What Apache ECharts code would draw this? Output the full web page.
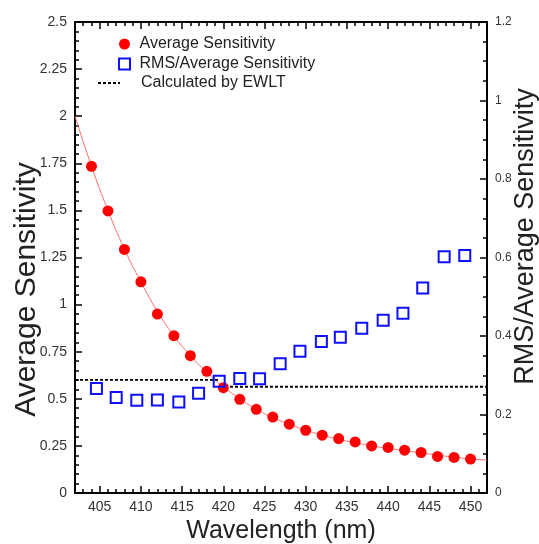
<!DOCTYPE html>
<html>
<head>
<meta charset="utf-8">
<script src="https://cdn.jsdelivr.net/npm/echarts@6/dist/echarts.min.js"></script>
<style>
  html, body { margin: 0; padding: 0; background: #fff; }
  #chart { width: 539px; height: 544px; }
</style>
</head>
<body>
<div id="chart"></div>
<script>
var avgWl = [404, 406, 408, 410, 412, 414, 416, 418, 420, 422, 424, 426,
  428, 430, 432, 434, 436, 438, 440, 442, 444, 446, 448, 450];
var avgSens = [1.734, 1.497, 1.293, 1.121, 0.95, 0.835, 0.729, 0.646, 0.559, 0.497, 0.444, 0.403,
  0.365, 0.333, 0.307, 0.289, 0.271, 0.25, 0.242, 0.227, 0.215, 0.194, 0.189, 0.18];

var fitWl = [402, 404, 406, 408, 410, 412, 414, 416, 418, 420, 422, 424, 426,
  428, 430, 432, 434, 436, 438, 440, 442, 444, 446, 448, 450, 452];
var fitSens = [2.0, 1.735, 1.5, 1.295, 1.12, 0.965, 0.835, 0.73, 0.64, 0.565, 0.5, 0.445, 0.4,
  0.365, 0.333, 0.307, 0.285, 0.267, 0.25, 0.237, 0.225, 0.213, 0.201, 0.19, 0.181, 0.175];

var rmsWl = [404.6, 407, 409.5, 412, 414.6, 417, 419.5, 422, 424.4, 426.9, 429.3, 431.9,
  434.2, 436.8, 439.4, 441.8, 444.2, 446.8, 449.3];
var rmsRatio = [0.266, 0.243, 0.236, 0.237, 0.232, 0.254, 0.285, 0.292, 0.291, 0.329, 0.361, 0.386,
  0.397, 0.42, 0.44, 0.458, 0.522, 0.602, 0.605];

// EWLT level, two pieces with a break
var ewltWl = [402, 419.5, 419.8, 420.2, 452];
var ewltSens = [0.6, 0.6, null, 0.564, 0.564];

var xTicks = [405, 410, 415, 420, 425, 430, 435, 440, 445, 450];

var font = '"Liberation Sans", Arial, sans-serif';

function pairs(xs, ys) {
  return xs.map(function (x, i) { return [x, ys[i]]; });
}

var chart = echarts.init(document.getElementById('chart'));

var majorX = {
  type: 'value', min: 402, max: 452,
  axisLine: { show: true, lineStyle: { color: '#000', width: 2 } },
  axisTick: { show: true, inside: true, length: 7, customValues: xTicks, lineStyle: { color: '#000', width: 1.5 } },
  splitLine: { show: false }
};
var minorX = {
  type: 'value', min: 402, max: 452, interval: 1,
  axisLine: { show: false },
  axisTick: { show: true, inside: true, length: 4, lineStyle: { color: '#000', width: 1.5 } },
  axisLabel: { show: false },
  splitLine: { show: false }
};

var option = {
  backgroundColor: '#ffffff',
  animation: false,
  grid: { left: 75, right: 52, top: 22, bottom: 51, containLabel: false, outerBoundsMode: 'none' },
  legend: [{
    data: [
      { name: 'Average Sensitivity', icon: 'circle' },
      { name: 'RMS/Average Sensitivity', icon: 'path://M0,0H10V10H0Z',
        itemStyle: { color: '#fff', borderColor: '#0f0fff', borderWidth: 2 } }
    ],
    orient: 'vertical', left: 113, top: 31,
    itemWidth: 20, itemHeight: 11, itemGap: 4,
    textStyle: { fontSize: 16, color: '#222', fontFamily: font }
  }, {
    data: [{ name: 'Calculated by EWLT',
      icon: 'path://M0,0h3v2h-3z M5,0h3v2h-3z M10,0h3v2h-3z M15,0h3v2h-3z M20,0h2v2h-2z',
      itemStyle: { color: '#000' } }],
    orient: 'vertical', left: 93, top: 70,
    itemWidth: 22, itemHeight: 11,
    textStyle: { fontSize: 16, color: '#222', fontFamily: font, padding: [0, 0, 0, 16] }
  }],
  xAxis: [
    Object.assign({}, majorX, {
      position: 'bottom',
      name: 'Wavelength (nm)', nameLocation: 'middle', nameGap: 22,
      nameTextStyle: { fontSize: 25, color: '#222', fontFamily: font },
      axisLabel: { customValues: xTicks, fontSize: 14, color: '#333', margin: 7, fontFamily: font }
    }),
    Object.assign({}, minorX, { position: 'bottom' }),
    Object.assign({}, majorX, { position: 'top', axisLabel: { show: false } }),
    Object.assign({}, minorX, { position: 'top' })
  ],
  yAxis: [{
    type: 'value', min: 0, max: 2.5, interval: 0.25, position: 'left',
    name: 'Average Sensitivity', nameLocation: 'middle', nameGap: 33, nameMoveOverlap: false,
    nameTextStyle: { fontSize: 30, color: '#222', fontFamily: font, padding: [0, 64, 0, 0] },
    axisLine: { show: true, lineStyle: { color: '#000', width: 2 } },
    axisTick: { show: true, inside: true, length: 7, lineStyle: { color: '#000', width: 1.5 } },
    minorTick: { show: true, splitNumber: 5, length: 4, lineStyle: { color: '#000', width: 1.5 } },
    axisLabel: { fontSize: 14, color: '#333', margin: 8, fontFamily: font },
    splitLine: { show: false }
  }, {
    type: 'value', min: 0, max: 1.2, interval: 0.2, position: 'right',
    name: 'RMS/Average Sensitivity', nameLocation: 'middle', nameGap: 25, nameRotate: 90,
    nameMoveOverlap: false,
    nameTextStyle: { fontSize: 27, color: '#222', fontFamily: font, padding: [0, 0, 0, 42] },
    axisLine: { show: true, lineStyle: { color: '#000', width: 2 } },
    axisTick: { show: true, inside: true, length: 7, lineStyle: { color: '#000', width: 1.5 } },
    minorTick: { show: true, splitNumber: 4, length: 4, lineStyle: { color: '#000', width: 1.5 } },
    axisLabel: { fontSize: 12, color: '#333', margin: 8, fontFamily: font },
    splitLine: { show: false }
  }],
  series: [{
    name: 'fit',
    type: 'line',
    xAxisIndex: 0, yAxisIndex: 0,
    data: pairs(fitWl, fitSens),
    smooth: true,
    showSymbol: false,
    lineStyle: { color: '#ff6f6f', width: 1 },
    z: 1
  }, {
    name: 'Calculated by EWLT',
    type: 'line',
    xAxisIndex: 0, yAxisIndex: 0,
    data: pairs(ewltWl, ewltSens),
    connectNulls: false,
    symbol: 'none',
    color: '#000',
    lineStyle: { color: '#000', width: 1.8, type: [3, 2] },
    z: 2
  }, {
    name: 'Average Sensitivity',
    type: 'scatter',
    xAxisIndex: 0, yAxisIndex: 0,
    data: pairs(avgWl, avgSens),
    symbol: 'circle',
    symbolSize: 11,
    itemStyle: { color: '#ff0000', opacity: 1 },
    z: 3
  }, {
    name: 'RMS/Average Sensitivity',
    type: 'scatter',
    xAxisIndex: 0, yAxisIndex: 1,
    data: pairs(rmsWl, rmsRatio),
    symbol: 'rect',
    symbolSize: 11,
    itemStyle: { color: 'rgba(255,255,255,0)', borderColor: '#0f0fff', borderWidth: 2, opacity: 1 },
    z: 4
  }]
};

chart.setOption(option);
</script>
</body>
</html>
